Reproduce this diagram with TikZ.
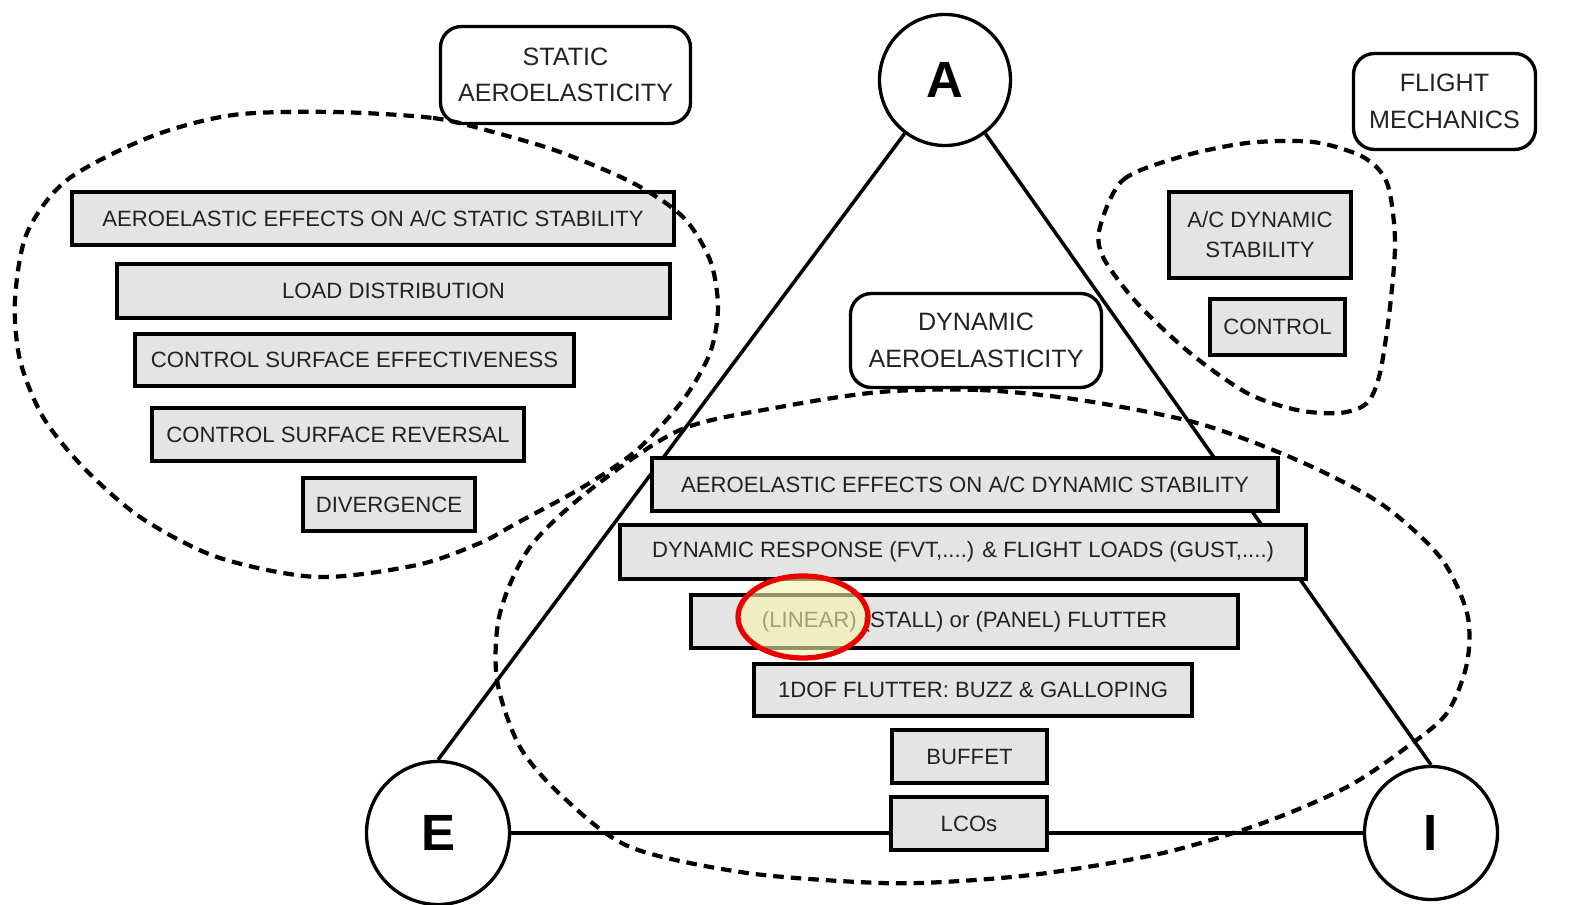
\documentclass[tikz,border=0pt]{standalone}
\usepackage{fontspec}
\setmainfont{Liberation Sans}
\usetikzlibrary{positioning, calc}

\definecolor{boxgray}{RGB}{228,228,228}
\definecolor{boxtext}{RGB}{34,34,34}
\definecolor{hlyellow}{RGB}{245,245,170}
\definecolor{hlred}{RGB}{235,0,0}

\begin{document}
\begin{tikzpicture}[
  x=0.02cm, y=-0.02cm,
  wh/.style 2 args={minimum width=#1*0.02cm, minimum height=#2*0.02cm},
  topic/.style={draw=black, fill=boxgray, line width=2.5pt, text=boxtext, align=center,
    inner sep=0pt, font=\fontsize{12.6}{17}\selectfont},
  field/.style={draw=black, fill=white, rounded corners=0.42cm, line width=1.9pt, text=boxtext,
    align=center, inner sep=0pt, font=\fontsize{14.3}{20.8}\selectfont},
  corner/.style={circle, draw=black, fill=white, line width=1.9pt, inner sep=0pt,
    font=\fontsize{29}{29}\selectfont\bfseries},
  side/.style={line width=2pt},
  group/.style={line width=2.4pt, dash pattern=on 6pt off 4pt},
  hlring/.style={draw=hlred, line width=3pt, fill=hlyellow, fill opacity=0.6}
]
\useasboundingbox (0,0) rectangle (1593,905);

% the three corners and the triangle
\node[corner, minimum size=131*0.02cm] (cA) at (945,80)  {A};
\node[corner, minimum size=143*0.02cm] (cE) at (438,833) {E};
\node[corner, minimum size=133*0.02cm] (cI) at (1431,833) {I};
\draw[side] (cA.233) -- (cE.north);
\draw[side] (cA.307) -- (cI.north);
\draw[side] (cE.east) -- (cI.west);

% static aeroelasticity topics
\node[topic, wh={602}{53}] (st1) at (373,218.5) {AEROELASTIC EFFECTS ON A/C STATIC STABILITY};
\node[topic, wh={553}{54}] (st2) at (393.5,291) {LOAD DISTRIBUTION};
\node[topic, wh={439}{52}] (st3) at (354.5,360) {CONTROL SURFACE EFFECTIVENESS};
\node[topic, wh={372}{53}] (st4) at (338,434.5) {CONTROL SURFACE REVERSAL};
\node[topic, wh={172}{53}] (st5) at (389,504.5) {DIVERGENCE};

% dynamic aeroelasticity topics
\node[topic, wh={626}{53}] (dy1) at (965,484.5) {AEROELASTIC EFFECTS ON A/C DYNAMIC STABILITY};
\node[topic, wh={686}{54}] (dy2) at (963,552) {DYNAMIC RESPONSE (FVT,....) \& FLIGHT LOADS (GUST,....)};
\node[topic, wh={547}{53}] (dy3) at (964.5,621.5) {(LINEAR) (STALL) or (PANEL) FLUTTER};
\node[topic, wh={438}{52}] (dy4) at (973,690) {1DOF FLUTTER: BUZZ \& GALLOPING};
\node[topic, wh={155}{53}] (dy5) at (969.5,756.5) {BUFFET};
\node[topic, wh={156}{53}] (dy6) at (969,823.5) {LCOs};

% flight mechanics topics
\node[topic, wh={182}{86}] (fm1) at (1260,235) {A/C DYNAMIC\\STABILITY};
\node[topic, wh={135}{56}] (fm2) at (1277.5,327) {CONTROL};

% field labels
\node[field, wh={250}{97}] (lstatic) at (565.5,75) {STATIC\\AEROELASTICITY};
\node[field, wh={251}{94}] (ldynamic) at (976,340.5) {DYNAMIC\\AEROELASTICITY};
\node[field, wh={182}{96}] (lflight) at (1444.5,101.5) {FLIGHT\\MECHANICS};

% dashed groupings
\draw[group] plot[smooth cycle] coordinates {
  (333,112) (433,118) (493,132) (560,152) (633,183) (683,217) (710,260) (718,307)
  (710,353) (683,400) (637,450) (583,487) (517,523) (480,543) (417,565) (317,577)
  (217,557) (140,517) (83,467) (43,417) (20,360) (15,300) (27,233) (67,180)
  (150,137) (233,115)};
\draw[group] plot[smooth cycle] coordinates {
  (880,392) (980,390) (1080,400) (1197,423) (1297,460) (1380,503) (1440,557)
  (1467,613) (1467,663) (1447,713) (1407,747) (1347,787) (1263,823) (1163,853)
  (1047,873) (960,881) (880,883) (747,873) (630,847) (563,797) (520,747)
  (497,680) (500,613) (530,547) (590,490) (680,430) (780,407)};
\draw[group] plot[smooth cycle] coordinates {
  (1100,227) (1123,180) (1180,157) (1247,143) (1313,142) (1363,157) (1387,183)
  (1395,240) (1390,307) (1380,373) (1367,403) (1340,413) (1297,410) (1247,393)
  (1190,353) (1137,303) (1103,257)};

% highlight
\draw[hlring] (803,617) ellipse [x radius=65, y radius=41];

\end{tikzpicture}
\end{document}
